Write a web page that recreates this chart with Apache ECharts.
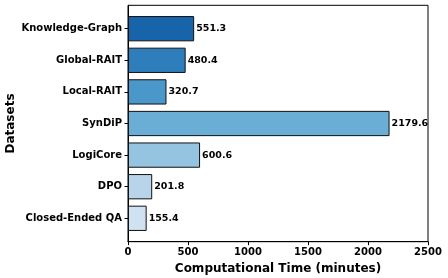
<!DOCTYPE html>
<html><head><meta charset="utf-8">
<script src="https://cdn.jsdelivr.net/npm/echarts@6/dist/echarts.min.js"></script>
<style>html,body{margin:0;padding:0;background:#fff}#c{width:448px;height:278px}</style>
</head><body><div id="c"></div>
<script>
const categories = ["Knowledge-Graph","Global-RAIT","Local-RAIT","SynDiP","LogiCore","DPO","Closed-Ended QA"];
const times = [551.3, 480.4, 320.7, 2179.6, 600.6, 201.8, 155.4];
const barColors = ["#1764ab","#2e7ebc","#4a98c9","#6aaed6","#94c4df","#b7d4ea","#d0e1f2"];
const xTicks = [0, 500, 1000, 1500, 2000, 2500];

const F = "DejaVu Sans";
const chart = echarts.init(document.getElementById('c'), null, {renderer:'canvas'});
const L = 128, R = 20, T = 5.3, B = 36.3, INSET = 7.6;
chart.setOption({
  animation:false,
  textStyle:{fontFamily:F},
  grid:[
    {left:L,right:R,top:T,bottom:B,show:true,borderColor:'#000',borderWidth:1,backgroundColor:'transparent',containLabel:false,outerBoundsMode:'none'},
    {left:L,right:R,top:T+INSET,bottom:B+INSET,containLabel:false,outerBoundsMode:'none'}
  ],
  xAxis:[
    {gridIndex:0,type:'value',min:xTicks[0],max:xTicks[xTicks.length-1],interval:500,
     name:'Computational Time (minutes)',nameLocation:'middle',nameGap:18,
     nameTextStyle:{fontFamily:F,fontWeight:'bold',fontSize:12,color:'#000'},
     axisLine:{show:true,lineStyle:{color:'#000',width:1}},
     axisTick:{show:true,length:3.5,lineStyle:{color:'#000'}},
     axisLabel:{fontFamily:F,fontWeight:'bold',fontSize:10,color:'#000',margin:6,formatter:v=>String(v)},
     splitLine:{show:false}},
    {gridIndex:1,type:'value',min:0,max:2500,show:false}
  ],
  yAxis:[
    {gridIndex:0,type:'value',min:0,max:1,
     name:'Datasets',nameLocation:'middle',nameGap:111,
     nameTextStyle:{fontFamily:F,fontWeight:'bold',fontSize:12,color:'#000'},
     axisLine:{show:true,lineStyle:{color:'#000'}},axisTick:{show:false},axisLabel:{show:false},splitLine:{show:false}},
    {gridIndex:1,type:'category',data:categories,inverse:true,
     axisLine:{show:false},
     axisTick:{show:true,alignWithLabel:true,length:3.5,lineStyle:{color:'#000'}},
     axisLabel:{fontFamily:F,fontWeight:'bold',fontSize:10,color:'#000',margin:6}}
  ],
  series:[{
    type:'bar',xAxisIndex:1,yAxisIndex:1,barCategoryGap:'20%',
    data:times.map((v,i)=>({value:v,itemStyle:{color:barColors[i]}})),
    itemStyle:{borderColor:'#111',borderWidth:1},
    label:{show:true,position:'right',distance:2,fontFamily:F,fontWeight:'bold',fontSize:9.5,color:'#000',
      formatter:p=>p.value.toFixed(1)}
  }]
});
</script></body></html>
